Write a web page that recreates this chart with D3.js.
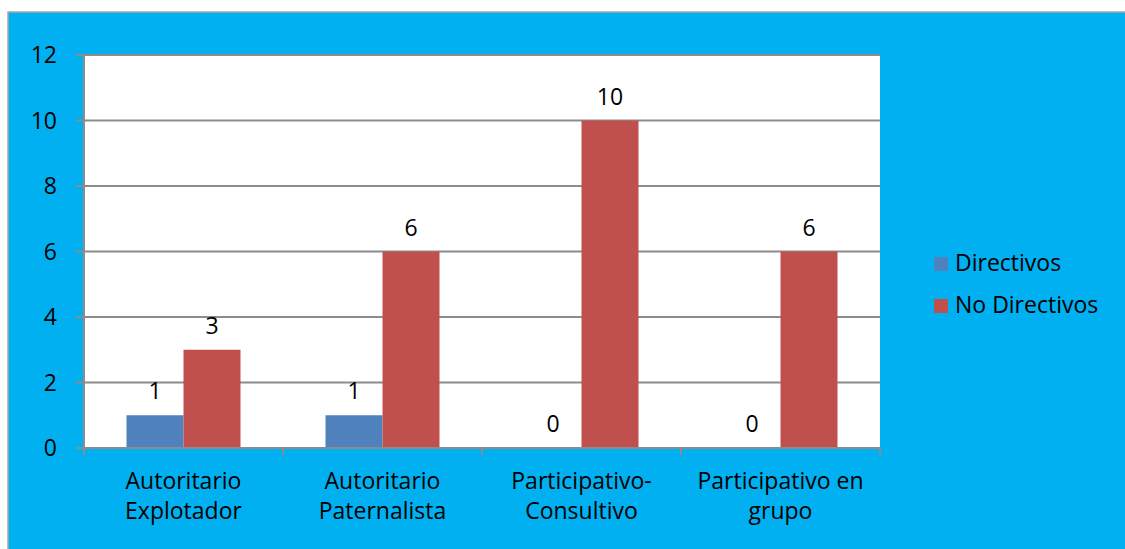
<!DOCTYPE html>
<html>
<head>
<meta charset="utf-8">
<script src="https://cdn.jsdelivr.net/npm/d3@7"></script>
<style>
  body { margin: 0; background: #fff; }
  text { font-family: "Open Sans", "Noto Sans", sans-serif; fill: #000; }
</style>
</head>
<body>
<script>
const width = 1125;
const height = 549;

// data
const categories = [["Autoritario", "Explotador"], ["Autoritario", "Paternalista"], ["Participativo-", "Consultivo"], ["Participativo en", "grupo"]];
const seriesNames = ["Directivos", "No Directivos"];
const directivos = [1, 1, 0, 0];
const noDirectivos = [3, 6, 10, 6];
const yTicks = [0, 2, 4, 6, 8, 10, 12];
const colors = ["#4F81BD", "#C0504D"];

const fs = "23px";

const svg = d3.select("body").append("svg").attr("width", width).attr("height", height);

// outer chart area
svg.append("rect")
  .attr("x", 8).attr("y", 12)
  .attr("width", width).attr("height", height)
  .attr("fill", "#00B0F0")
  .attr("stroke", "#A6A6A6")
  .attr("stroke-width", 1.5);

const plot = { left: 84, right: 880, top: 55, bottom: 448 };

const x = d3.scaleBand().domain(d3.range(categories.length)).range([plot.left, plot.right]);
const y = d3.scaleLinear().domain([0, 12]).range([plot.bottom, plot.top]);
const barW = 57;

svg.append("rect")
  .attr("x", plot.left).attr("y", plot.top)
  .attr("width", plot.right - plot.left).attr("height", plot.bottom - plot.top)
  .attr("fill", "#fff");

// gridlines
svg.selectAll("line.grid")
  .data(yTicks.filter(d => d > 0))
  .enter().append("line")
  .attr("class", "grid")
  .attr("x1", plot.left - 8).attr("x2", plot.right)
  .attr("y1", d => y(d)).attr("y2", d => y(d))
  .style("stroke", "#8C8C8C").style("stroke-width", 2);

// bars
const rows = categories.map((c, i) => [directivos[i], noDirectivos[i]]);
rows.forEach((vals, i) => {
  vals.forEach((v, s) => {
    const bx = x(i) + x.bandwidth() / 2 + (s - 1) * barW;
    svg.append("rect")
      .attr("x", bx).attr("y", y(v))
      .attr("width", barW).attr("height", y(0) - y(v))
      .attr("fill", colors[s]);
    svg.append("text")
      .attr("x", bx + barW / 2).attr("y", y(v) - 16)
      .attr("text-anchor", "middle")
      .style("font-size", fs)
      .text(v);
  });
});

// y axis
svg.append("line")
  .attr("x1", plot.left).attr("x2", plot.left)
  .attr("y1", plot.top).attr("y2", plot.bottom)
  .style("stroke", "#8C8C8C").style("stroke-width", 2);

svg.append("line")
  .attr("x1", plot.left - 8).attr("x2", plot.left)
  .attr("y1", plot.bottom).attr("y2", plot.bottom)
  .style("stroke", "#8C8C8C").style("stroke-width", 2);

svg.selectAll("text.ytick")
  .data(yTicks)
  .enter().append("text")
  .attr("class", "ytick")
  .attr("x", 57).attr("y", d => y(d) + 8)
  .attr("text-anchor", "end")
  .style("font-size", fs)
  .text(d => d);

// x axis
svg.append("line")
  .attr("x1", plot.left).attr("x2", plot.right)
  .attr("y1", plot.bottom).attr("y2", plot.bottom)
  .style("stroke", "#8C8C8C").style("stroke-width", 2);

svg.selectAll("line.xtick")
  .data(d3.range(categories.length + 1))
  .enter().append("line")
  .attr("class", "xtick")
  .attr("x1", d => plot.left + d * x.step()).attr("x2", d => plot.left + d * x.step())
  .attr("y1", plot.bottom).attr("y2", plot.bottom + 7)
  .style("stroke", "#8C8C8C").style("stroke-width", 2);

const xl = svg.selectAll("text.xlabel")
  .data(categories)
  .enter().append("text")
  .attr("class", "xlabel")
  .attr("text-anchor", "middle")
  .style("font-size", fs);
xl.each(function(d, i) {
  d3.select(this).selectAll("tspan")
    .data(d)
    .enter().append("tspan")
    .attr("x", x(i) + x.bandwidth() / 2)
    .attr("y", (t, j) => 489 + j * 30)
    .text(t => t);
});

// legend
const legend = svg.selectAll("g.legend")
  .data(seriesNames)
  .enter().append("g")
  .attr("class", "legend")
  .attr("transform", (d, i) => `translate(934, ${257 + i * 42})`);
legend.append("rect")
  .attr("width", 14).attr("height", 14)
  .attr("fill", (d, i) => colors[i]);
legend.append("text")
  .attr("x", 21).attr("y", 14)
  .style("font-size", fs)
  .text(d => d);
</script>
</body>
</html>
